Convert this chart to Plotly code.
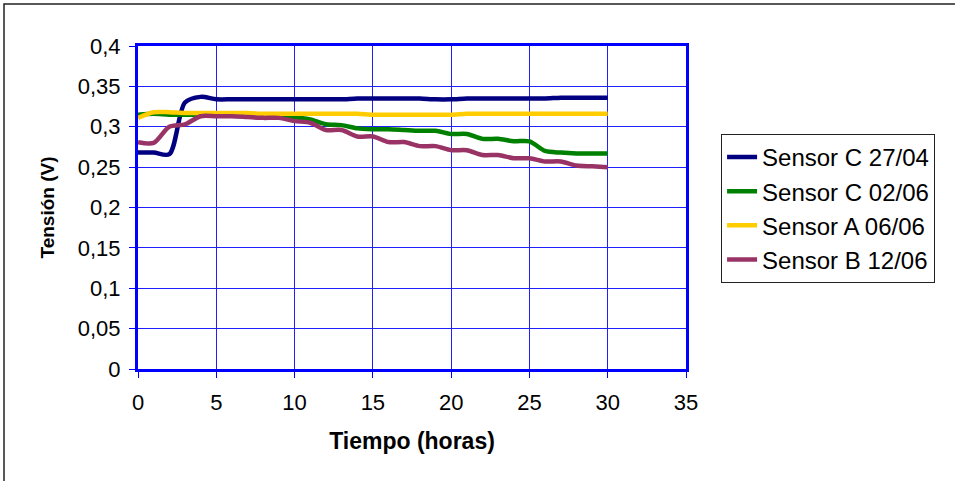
import plotly.graph_objects as go

# Hourly voltage readings for each sensor
horas = list(range(0, 31))

sensor_c_2704 = [0.268, 0.268, 0.266, 0.330, 0.337, 0.334, 0.334, 0.334, 0.334, 0.334,
                 0.334, 0.334, 0.334, 0.334, 0.335, 0.335, 0.335, 0.335, 0.335, 0.334,
                 0.334, 0.335, 0.335, 0.335, 0.335, 0.335, 0.335, 0.336, 0.336, 0.336, 0.336]

sensor_c_0206 = [0.315, 0.316, 0.315, 0.315, 0.315, 0.315, 0.315, 0.315, 0.315, 0.314,
                 0.312, 0.309, 0.303, 0.302, 0.298, 0.297, 0.297, 0.296, 0.295, 0.295,
                 0.291, 0.291, 0.285, 0.285, 0.282, 0.282, 0.270, 0.268, 0.267, 0.267, 0.267]

sensor_a_0606 = [0.311, 0.318, 0.318, 0.317, 0.317, 0.317, 0.317, 0.317, 0.316, 0.316,
                 0.316, 0.316, 0.316, 0.316, 0.316, 0.315, 0.315, 0.315, 0.315, 0.315,
                 0.315, 0.316, 0.316, 0.316, 0.316, 0.316, 0.316, 0.316, 0.316, 0.316, 0.316]

sensor_b_1206 = [0.281, 0.280, 0.300, 0.303, 0.313, 0.313, 0.313, 0.312, 0.311, 0.311,
                 0.307, 0.305, 0.296, 0.296, 0.288, 0.288, 0.281, 0.281, 0.276, 0.276,
                 0.271, 0.271, 0.265, 0.265, 0.261, 0.261, 0.257, 0.257, 0.252, 0.251, 0.250]

series = [
    ("Sensor C 27/04", sensor_c_2704, "#000080"),
    ("Sensor C 02/06", sensor_c_0206, "#008000"),
    ("Sensor A 06/06", sensor_a_0606, "#FFCC00"),
    ("Sensor B 12/06", sensor_b_1206, "#993366"),
]

x_ticks = [0, 5, 10, 15, 20, 25, 30, 35]
y_ticks = [0, 0.05, 0.1, 0.15, 0.2, 0.25, 0.3, 0.35, 0.4]
y_ticklabels = ["0", "0,05", "0,1", "0,15", "0,2", "0,25", "0,3", "0,35", "0,4"]

FONT = "Liberation Sans, Arial, sans-serif"

fig = go.Figure()
for name, vals, color in series:
    fig.add_trace(go.Scatter(
        x=horas, y=vals, name=name, mode="lines",
        legendgroup=name,
        line=dict(color=color, width=4.5, shape="spline", smoothing=0.8),
    ))

fig.update_layout(
    width=955, height=481,
    margin=dict(l=138, r=269, t=46, b=112),
    paper_bgcolor="white",
    plot_bgcolor="white",
    font=dict(family=FONT, size=22, color="black"),
    showlegend=True,
    legend=dict(
        xref="paper", x=1.064, xanchor="left",
        yref="paper", y=0.728, yanchor="top",
        bordercolor="#222222", borderwidth=1,
        font=dict(family=FONT, size=24, color="black"),
        tracegroupgap=0,
        itemwidth=30,
    ),
    xaxis=dict(
        range=[0, 35], tickvals=x_ticks, ticktext=[str(v) for v in x_ticks],
        showgrid=True, gridcolor="#2020FF", gridwidth=1,
        showline=True, linecolor="#0000FF", linewidth=3, mirror=True,
        ticks="outside", ticklen=6, tickcolor="#0000FF", tickwidth=1,
        ticklabelstandoff=6,
        zeroline=False,
        title=dict(text="<b>Tiempo (horas)</b>", font=dict(size=23), standoff=19),
        tickfont=dict(size=22),
    ),
    yaxis=dict(
        range=[0, 0.4], tickvals=y_ticks, ticktext=y_ticklabels,
        showgrid=True, gridcolor="#2020FF", gridwidth=1,
        showline=True, linecolor="#0000FF", linewidth=3, mirror=True,
        ticks="outside", ticklen=6, tickcolor="#0000FF", tickwidth=1,
        ticklabelstandoff=4,
        zeroline=False,
        title=dict(text="<b>Tensión (V)</b>", font=dict(size=19), standoff=19),
        tickfont=dict(size=22),
    ),
)

# Outer chart frame
fig.add_shape(type="rect", xref="paper", yref="paper",
              x0=-0.2445, y0=-2, x1=2, y1=1.130,
              line=dict(color="#222222", width=1.5), layer="below")

fig.write_html("out.html")
